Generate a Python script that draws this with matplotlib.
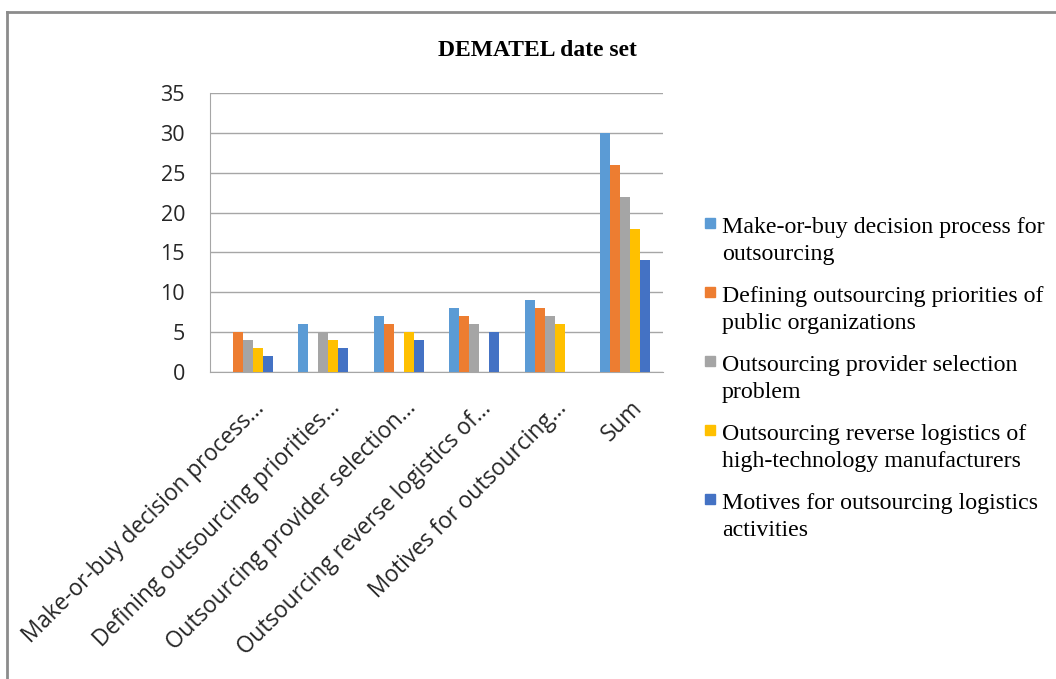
import matplotlib
matplotlib.use("Agg")
import matplotlib.pyplot as plt
import numpy as np
from matplotlib.lines import Line2D
from matplotlib.patches import Rectangle
from matplotlib.transforms import ScaledTranslation

# categories on the x axis (as shown, truncated by the chart)
categories = [
    "Make-or-buy decision process...",
    "Defining outsourcing priorities...",
    "Outsourcing provider selection...",
    "Outsourcing reverse logistics of...",
    "Motives for outsourcing...",
    "Sum",
]

# series names (legend, wrapped like the original)
series_names = [
    "Make-or-buy decision process for\noutsourcing",
    "Defining outsourcing priorities of\npublic organizations",
    "Outsourcing provider selection\nproblem",
    "Outsourcing reverse logistics of\nhigh-technology manufacturers",
    "Motives for outsourcing logistics\nactivities",
]

make_or_buy = [0, 6, 7, 8, 9, 30]
defining = [5, 0, 6, 7, 8, 26]
provider = [4, 5, 0, 6, 7, 22]
reverse_log = [3, 4, 5, 0, 6, 18]
motives = [2, 3, 4, 5, 0, 14]

colors = ["#5B9BD5", "#ED7D31", "#A5A5A5", "#FFC000", "#4472C4"]

yticks = [0, 5, 10, 15, 20, 25, 30, 35]

W, H = 1056, 679
fig = plt.figure(figsize=(W / 100, H / 100), dpi=100, facecolor="white")

# plot area in pixel coords
x0, x1, ytop, ybot = 210, 663, 93, 372
ax = fig.add_axes([x0 / W, 1 - ybot / H, (x1 - x0) / W, (ybot - ytop) / H])

data = [make_or_buy, defining, provider, reverse_log, motives]
n = len(data)
x = np.arange(len(categories))
bw = 0.132
for i, vals in enumerate(data):
    ax.bar(x + (i - (n - 1) / 2) * bw, vals, width=bw, color=colors[i],
           label=series_names[i], zorder=3)

ax.set_xlim(-0.5, len(categories) - 0.5)
ax.set_ylim(0, 35)
ax.set_yticks(yticks)
ax.yaxis.grid(True, color="#A6A6A6", linewidth=1.0, zorder=0)
ax.set_axisbelow(True)
for s in ["top", "right"]:
    ax.spines[s].set_visible(False)
ax.spines["left"].set_color("#A6A6A6")
ax.spines["bottom"].set_color("#A6A6A6")
ax.tick_params(axis="both", length=0)
ax.tick_params(axis="y", labelsize=15.5, pad=18, labelcolor="#262626")

ax.set_xticks(x)
ax.set_xticklabels(categories, rotation=45, ha="right", rotation_mode="anchor",
                   fontsize=16.3, color="#262626", family="Open Sans")
for lab in ax.get_yticklabels():
    lab.set_family("Open Sans")
ax.tick_params(axis="x", pad=17.5)
shift = ScaledTranslation(0.05, 0.0, fig.dpi_scale_trans)
for lab in ax.get_xticklabels():
    lab.set_transform(lab.get_transform() + shift)

fig.text(537 / W, 1 - 50 / H, "DEMATEL date set", ha="center", va="center",
         fontsize=17, fontweight="bold", family="Liberation Serif")

# legend drawn by hand so the marker sits beside the first line
for i, name in enumerate(series_names):
    ytxt = 217 + 69 * i
    fig.text(722 / W, 1 - ytxt / H, name, ha="left", va="top",
             fontsize=17.2, family="Liberation Serif", linespacing=1.37)
    fig.add_artist(Rectangle((705 / W, 1 - (ytxt + 11) / H), 10 / W, 10 / H,
                             transform=fig.transFigure, color=colors[i]))

# outer border (top and left)
fig.add_artist(Line2D([7 / W, 1], [1 - 12 / H, 1 - 12 / H], transform=fig.transFigure,
                      color="#8C8C8C", linewidth=2))
fig.add_artist(Line2D([7 / W, 7 / W], [1 - 12 / H, 0], transform=fig.transFigure,
                      color="#8C8C8C", linewidth=2))

fig.savefig("out.png", dpi=100, facecolor="white")
